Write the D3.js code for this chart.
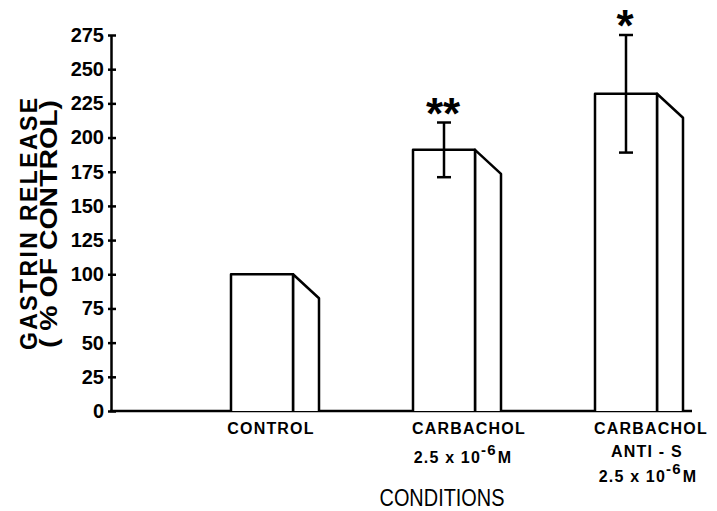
<!DOCTYPE html>
<html>
<head>
<meta charset="utf-8">
<script src="https://cdn.jsdelivr.net/npm/d3@7"></script>
<style>
  body { margin: 0; background: #fff; }
  svg { display: block; font-family: "Liberation Sans", Arial, sans-serif; }
</style>
</head>
<body>
<div id="chart"></div>
<script>
// values
const categories = ["CONTROL", "CARBACHOL", "CARBACHOL ANTI-S"];
const values = [100, 191, 232];
const errors = [0, 20, 43];
const stars = ["", "**", "*"];
const labelLines = [
    [["CONTROL"]],
    [["CARBACHOL"], ["2.5 x 10", "-6", "M"]],
    [["CARBACHOL"], ["ANTI - S"], ["2.5 x 10", "-6", "M"]]
];
const yTicks = [0, 25, 50, 75, 100, 125, 150, 175, 200, 225, 250, 275];

const width = 717, height = 511;

const svg = d3.select("#chart").append("svg")
    .attr("width", width)
    .attr("height", height);

const y = d3.scaleLinear().domain([0, 275]).range([411, 35]);
const x = d3.scalePoint().domain(categories).range([262, 626]);

const frontW = 62;   // front face width
const depthX = 26;   // side face depth
const depthY = 24;   // drop of the slanted top

// y axis
const yAxis = svg.append("g")
    .attr("transform", "translate(111,0)")
    .call(d3.axisLeft(y).tickValues(yTicks).tickSize(0).tickPadding(7));
yAxis.select(".domain").attr("stroke", "#000").attr("stroke-width", 2.5);
yAxis.selectAll(".tick line")
    .attr("x1", -3).attr("x2", 5)
    .attr("stroke", "#000").attr("stroke-width", 2.5);
yAxis.selectAll(".tick text")
    .attr("font-size", 20)
    .attr("font-weight", "bold")
    .attr("font-family", "Liberation Sans, Arial, sans-serif")
    .attr("fill", "#000");

// x axis line
svg.append("line")
    .attr("x1", 110).attr("x2", 692)
    .attr("y1", y(0)).attr("y2", y(0))
    .attr("stroke", "#000").attr("stroke-width", 2.5);

// bars drawn as a front face plus a side face
const bars = svg.append("g")
    .attr("fill", "#fff")
    .attr("stroke", "#000")
    .attr("stroke-width", 2.5)
    .attr("stroke-linejoin", "round");

categories.forEach((c, i) => {
    const x0 = x(c) - frontW / 2, x1 = x0 + frontW, x2 = x1 + depthX;
    const top = y(values[i]);
    bars.append("path")
        .attr("d", `M${x1},${y(0)}V${top}L${x2},${top + depthY}V${y(0)}`);
    bars.append("path")
        .attr("d", `M${x0},${y(0)}V${top}H${x1}V${y(0)}`);
});

// error bars
const err = svg.append("g")
    .attr("stroke", "#000")
    .attr("stroke-width", 2.5);
categories.forEach((c, i) => {
    if (!errors[i]) return;
    const cx = x(c);
    const hi = y(values[i] + errors[i]), lo = y(values[i] - errors[i]);
    err.append("line").attr("x1", cx).attr("x2", cx).attr("y1", hi).attr("y2", lo);
    err.append("line").attr("x1", cx - 7).attr("x2", cx + 7).attr("y1", hi).attr("y2", hi);
    err.append("line").attr("x1", cx - 7).attr("x2", cx + 7).attr("y1", lo).attr("y2", lo);
});

// significance marks
categories.forEach((c, i) => {
    if (!stars[i]) return;
    svg.append("text")
        .attr("x", x(c) - 1)
        .attr("y", y(values[i] + errors[i]) + 6)
        .attr("text-anchor", "middle")
        .attr("font-size", 44)
        .attr("font-weight", "bold")
        .text(stars[i]);
});

// category labels
const labelNudge = [10, 26, 26];
const lineY = [[434], [434, 463], [434, 457, 482]];
const lineShift = [[0], [0, -6], [0, -4, -3]];
categories.forEach((c, i) => {
    const cx = x(c) - frontW / 2 + (frontW + depthX) / 2 + labelNudge[i] - 14;
    labelLines[i].forEach((parts, j) => {
        const t = svg.append("text")
            .attr("x", cx + lineShift[i][j])
            .attr("y", lineY[i][j])
            .attr("text-anchor", "middle")
            .attr("font-size", 16)
            .attr("font-weight", "bold")
            .attr("letter-spacing", 1.2);
        t.append("tspan").text(parts[0]);
        if (parts.length > 1) {
            t.append("tspan").attr("dy", -8).attr("font-size", 15).text(parts[1]);
            t.append("tspan").attr("dy", 8).attr("dx", 1).text(parts[2]);
        }
    });
});

// axis titles
svg.append("text")
    .attr("transform", "translate(442,506)")
    .attr("text-anchor", "middle")
    .attr("font-size", 23)
    .attr("textLength", 125)
    .attr("lengthAdjust", "spacingAndGlyphs")
    .text("CONDITIONS");

const yTitle = svg.append("g")
    .attr("transform", "translate(0,224) rotate(-90)")
    .attr("text-anchor", "middle")
    .attr("font-size", 23)
    .attr("font-weight", "bold");
yTitle.append("text").attr("y", 37)
    .attr("textLength", 252).attr("lengthAdjust", "spacing")
    .text("GASTRIN RELEASE");
yTitle.append("text").attr("y", 57)
    .attr("textLength", 248).attr("lengthAdjust", "spacingAndGlyphs")
    .text("( % OF CONTROL)");
</script>
</body>
</html>
